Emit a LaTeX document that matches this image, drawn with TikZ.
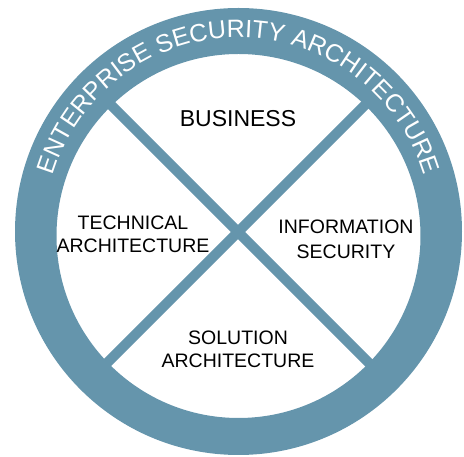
\documentclass[tikz,border=0pt]{standalone}
\usepackage{fontspec}
\setmainfont{Liberation Sans}
\usetikzlibrary{decorations.text}

\definecolor{esablue}{RGB}{101,149,172}

\tikzset{
  quadlabel/.style={align=center, inner sep=0pt, text=black,
    font=\fontsize{19.5}{23}\selectfont},
  crossbar/.style={esablue, line width=10pt},
}

\begin{document}
\begin{tikzpicture}[x=1pt,y=1pt]
        \useasboundingbox (0,0) rectangle (464,457);

        % the cross
        \coordinate (hub) at (238,225);
        \path (hub) ++(135:200pt) coordinate (nw);
        \path (hub) ++(-45:200pt) coordinate (se);
        \path (hub) ++(45:200pt) coordinate (ne);
        \path (hub) ++(-135:200pt) coordinate (sw);
        \draw[crossbar] (nw) -- (se);
        \draw[crossbar] (ne) -- (sw);

        % the ring
        \fill[esablue, even odd rule] (238.5,225.5) circle[radius=223.5pt]
                                      (238.5,221) circle[radius=182pt];
        \path[decorate, decoration={text along path, text align=center,
              text={|\fontsize{25}{25}\selectfont\color{white}|ENTERPRISE SECURITY ARCHITECTURE}}]
              (238.5,225.5) ++(180:194pt) arc[start angle=180, end angle=0, radius=194pt];

        % the four parts
        \node[inner sep=0pt, font=\fontsize{23}{23}\selectfont] (business) at (238,338.5) {BUSINESS};
        \node[quadlabel] (technical) at (133,223) {TECHNICAL\\ARCHITECTURE};
        \node[quadlabel, font=\fontsize{19.5}{25}\selectfont] (infosec) at (346,218) {INFORMATION\\SECURITY};
        \node[quadlabel] (solution) at (238,108) {SOLUTION\\ARCHITECTURE};
\end{tikzpicture}
\end{document}
